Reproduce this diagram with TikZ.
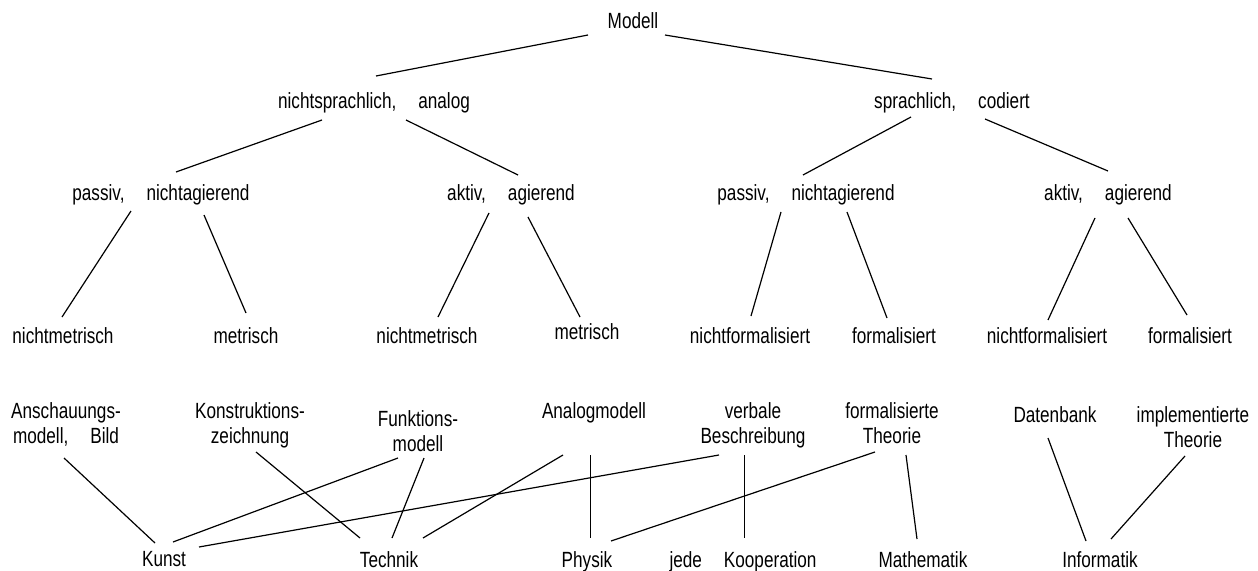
\documentclass[tikz,border=0pt]{standalone}
\usepackage{fontspec}
\setmainfont[FakeStretch=0.78]{Liberation Sans}
\tikzstyle{lbl} = [inner sep=0pt, anchor=north, align=center, font=\fontsize{16.5pt}{18.75pt}\selectfont]
\tikzstyle{edge} = [line width=0.9pt]

\begin{document}
\begin{tikzpicture}[x=0.75pt, y=-0.75pt]
\useasboundingbox (0,0) rectangle (1258,571);

\node (modell) [lbl] at (633,12) {Modell};

\node (nsa) [lbl] at (374,92) {nichtsprachlich,\quad analog};
\node (sc) [lbl] at (952,92) {sprachlich,\quad codiert};

\node (passL) [lbl] at (161,184) {passiv,\quad nichtagierend};
\node (aktL) [lbl] at (511,184) {aktiv,\quad agierend};
\node (passR) [lbl] at (806,184) {passiv,\quad nichtagierend};
\node (aktR) [lbl] at (1108,184) {aktiv,\quad agierend};

\node (nmL) [lbl] at (63,327) {nichtmetrisch};
\node (mL) [lbl] at (246,327) {metrisch};
\node (nmR) [lbl] at (427,327) {nichtmetrisch};
\node (mR) [lbl] at (587,323) {metrisch};
\node (nfL) [lbl] at (750,327) {nichtformalisiert};
\node (fL) [lbl] at (894,327) {formalisiert};
\node (nfR) [lbl] at (1047,327) {nichtformalisiert};
\node (fR) [lbl] at (1190,327) {formalisiert};

\node (ansch) [lbl] at (66,402) {Anschauungs-\\modell,\quad Bild};
\node (konstr) [lbl] at (250,402) {Konstruktions-\\zeichnung};
\node (funkt) [lbl] at (418,410) {Funktions-\\modell};
\node (analog) [lbl] at (594,402) {Analogmodell};
\node (verbal) [lbl] at (753,402) {verbale\\Beschreibung};
\node (formt) [lbl] at (892,402) {formalisierte\\Theorie};
\node (daten) [lbl] at (1055,406) {Datenbank};
\node (impl) [lbl] at (1193,406) {implementierte\\Theorie};

\node (kunst) [lbl] at (164,551) {Kunst};
\node (technik) [lbl] at (389,551) {Technik};
\node (physik) [lbl] at (587,551) {Physik};
\node (koop) [lbl] at (743,551) {jede\quad Kooperation};
\node (mathe) [lbl] at (923,551) {Mathematik};
\node (info) [lbl] at (1100,551) {Informatik};

\draw [edge] ([shift={(-45,23)}]modell.north) -- ([shift={(2,-16)}]nsa.north);
\draw [edge] ([shift={(32,23)}]modell.north) -- ([shift={(-20,-13)}]sc.north);

\draw [edge] ([shift={(-52,28)}]nsa.north) -- ([shift={(15,-12)}]passL.north);
\draw [edge] ([shift={(32,28)}]nsa.north) -- ([shift={(7,-9)}]aktL.north);
\draw [edge] ([shift={(-41,25)}]sc.north) -- ([shift={(-3,-9)}]passR.north);
\draw [edge] ([shift={(33,27)}]sc.north) -- ([shift={(0,-13)}]aktR.north);

\draw [edge] ([shift={(-30,27)}]passL.north) -- ([shift={(-1,-10)}]nmL.north);
\draw [edge] ([shift={(43,31)}]passL.north) -- ([shift={(0,-14)}]mL.north);
\draw [edge] ([shift={(-22,29)}]aktL.north) -- ([shift={(11,-10)}]nmR.north);
\draw [edge] ([shift={(17,33)}]aktL.north) -- ([shift={(-7,-6)}]mR.north);
\draw [edge] ([shift={(-25,28)}]passR.north) -- ([shift={(1,-11)}]nfL.north);
\draw [edge] ([shift={(41,28)}]passR.north) -- ([shift={(-7,-9)}]fL.north);
\draw [edge] ([shift={(-13,34)}]aktR.north) -- ([shift={(1,-7)}]nfR.north);
\draw [edge] ([shift={(20,34)}]aktR.north) -- ([shift={(-3,-12)}]fR.north);

\draw [edge] ([shift={(-2,56)}]ansch.north) -- ([shift={(-9,-8)}]kunst.north);
\draw [edge] ([shift={(6,50)}]konstr.north) -- ([shift={(-29,-13)}]technik.north);
\draw [edge] ([shift={(-20,48)}]funkt.north) -- ([shift={(9,-9)}]kunst.north);
\draw [edge] ([shift={(6,48)}]funkt.north) -- ([shift={(3,-13)}]technik.north);
\draw [edge] ([shift={(-31,53)}]analog.north) -- ([shift={(34,-13)}]technik.north);
\draw [edge] ([shift={(-3.5,53)}]analog.north) -- ([shift={(3.5,-13)}]physik.north);
\draw [edge] ([shift={(-34,53)}]verbal.north) -- ([shift={(35,-4)}]kunst.north);
\draw [edge] ([shift={(-8.5,53)}]verbal.north) -- ([shift={(1.5,-13)}]koop.north);
\draw [edge] ([shift={(-17,50)}]formt.north) -- ([shift={(24,-10)}]physik.north);
\draw [edge] ([shift={(14,53)}]formt.north) -- ([shift={(-6,-12)}]mathe.north);
\draw [edge] ([shift={(-7,32)}]daten.north) -- ([shift={(-14,-10)}]info.north);
\draw [edge] ([shift={(-8,50)}]impl.north) -- ([shift={(11,-12)}]info.north);

\end{tikzpicture}
\end{document}
